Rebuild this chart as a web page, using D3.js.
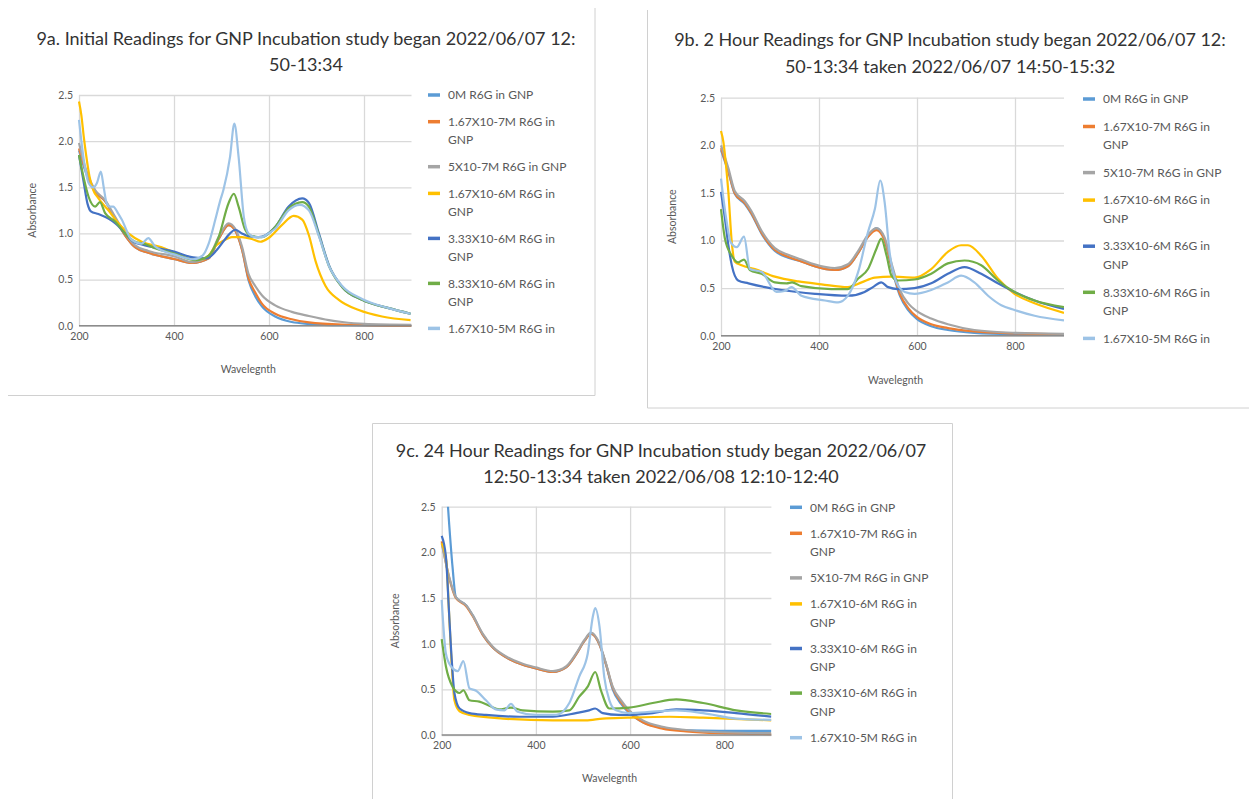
<!DOCTYPE html>
<html>
<head>
<meta charset="utf-8">
<script src="https://cdn.jsdelivr.net/npm/d3@7"></script>
<style>
  body { margin: 0; background: #fff; }
  text { font-family: Lato, "Open Sans", sans-serif; }
</style>
</head>
<body>
<svg id="chart" width="1249" height="799"></svg>
<script>
// Series labels and tick values shared by the three panels
var seriesNames = [
  "0M R6G in GNP",
  "1.67X10-7M R6G in GNP",
  "5X10-7M R6G in GNP",
  "1.67X10-6M R6G in GNP",
  "3.33X10-6M R6G in GNP",
  "8.33X10-6M R6G in GNP",
  "1.67X10-5M R6G in GNP"
];
var seriesColors = ["#5B9BD5", "#ED7D31", "#A5A5A5", "#FFC000", "#4472C4", "#70AD47", "#9DC3E6"];
var xTicks = [200, 400, 600, 800];
var yTicks = [0, 0.5, 1, 1.5, 2, 2.5];

// 9a - initial readings, [wavelength, absorbance] per series
var initialReadings = [
  [[200,1.90],[213,1.68],[234,1.45],[255,1.35],[276,1.16],[297,0.98],[318,0.85],[346,0.79],[402,0.72],[438,0.68],[473,0.73],[494,0.94],[515,1.09],[529,1.03],[543,0.83],[557,0.49],[571,0.32],[585,0.21],[613,0.10],[648,0.04],[684,0.02],[754,0.005],[900,0]],
  [[200,1.92],[213,1.70],[234,1.45],[255,1.35],[276,1.16],[297,0.98],[318,0.85],[346,0.79],[402,0.72],[438,0.68],[473,0.73],[494,0.94],[515,1.09],[529,1.03],[543,0.83],[557,0.51],[571,0.36],[585,0.24],[613,0.13],[648,0.07],[684,0.036],[754,0.012],[900,0]],
  [[200,1.98],[213,1.72],[234,1.47],[255,1.36],[276,1.18],[297,1.00],[318,0.87],[346,0.81],[402,0.75],[438,0.69],[473,0.75],[494,0.96],[515,1.11],[529,1.05],[543,0.86],[557,0.56],[571,0.43],[585,0.33],[613,0.22],[648,0.15],[684,0.105],[726,0.06],[754,0.04],[800,0.02],[900,0.01]],
  [[200,2.43],[205,2.28],[210,2.05],[215,1.85],[222,1.62],[230,1.47],[241,1.38],[262,1.25],[283,1.11],[304,1.00],[332,0.91],[374,0.85],[402,0.79],[440,0.72],[460,0.72],[473,0.76],[487,0.86],[504,0.92],[522,0.96],[543,0.96],[564,0.94],[582,0.91],[599,0.95],[627,1.09],[652,1.19],[670,1.15],[684,0.98],[698,0.70],[719,0.43],[747,0.28],[789,0.17],[838,0.10],[898,0.06]],
  [[200,1.85],[210,1.55],[218,1.32],[225,1.24],[241,1.21],[262,1.16],[276,1.11],[297,1.00],[315,0.91],[332,0.88],[402,0.80],[440,0.74],[469,0.73],[490,0.82],[505,0.92],[518,1.00],[529,1.04],[543,1.00],[557,0.97],[578,0.96],[613,1.07],[641,1.29],[670,1.38],[684,1.33],[705,1.00],[726,0.66],[754,0.42],[796,0.28],[852,0.19],[898,0.13]],
  [[200,1.85],[210,1.60],[220,1.40],[234,1.29],[244,1.34],[255,1.22],[276,1.13],[297,1.00],[318,0.91],[339,0.885],[360,0.84],[402,0.78],[445,0.71],[473,0.76],[494,0.96],[515,1.33],[526,1.43],[536,1.29],[550,1.04],[564,0.97],[585,0.96],[613,1.07],[641,1.27],[670,1.34],[684,1.29],[705,0.98],[726,0.65],[754,0.42],[796,0.28],[852,0.19],[898,0.13]],
  [[200,2.23],[210,1.80],[220,1.55],[230,1.50],[238,1.55],[246,1.67],[252,1.50],[258,1.33],[265,1.29],[272,1.29],[282,1.22],[290,1.15],[311,0.93],[332,0.89],[346,0.95],[360,0.86],[402,0.77],[440,0.72],[460,0.76],[473,0.89],[487,1.15],[497,1.35],[504,1.47],[518,1.83],[527,2.19],[536,1.83],[547,1.18],[557,1.00],[571,0.96],[585,0.96],[599,1.00],[613,1.05],[641,1.25],[665,1.31],[684,1.25],[705,0.97],[726,0.65],[754,0.43],[796,0.29],[852,0.19],[898,0.13]]
];

// 9b - readings after 2 hours
var twoHourReadings = [
  [[200,1.95],[215,1.72],[228,1.49],[249,1.38],[262,1.28],[283,1.07],[310,0.89],[337,0.82],[364,0.78],[391,0.73],[432,0.69],[459,0.73],[480,0.87],[500,1.04],[517,1.13],[534,1.01],[548,0.72],[565,0.42],[582,0.27],[599,0.18],[629,0.10],[663,0.06],[717,0.03],[799,0.015],[900,0.01]],
  [[200,1.97],[215,1.73],[228,1.50],[249,1.39],[262,1.29],[283,1.08],[310,0.90],[337,0.83],[364,0.78],[391,0.73],[432,0.69],[459,0.73],[480,0.87],[500,1.04],[517,1.11],[534,1.00],[548,0.73],[565,0.44],[582,0.29],[599,0.20],[629,0.12],[663,0.08],[717,0.045],[799,0.025],[900,0.015]],
  [[200,2.00],[215,1.76],[228,1.52],[249,1.41],[262,1.31],[283,1.10],[310,0.92],[337,0.85],[364,0.80],[391,0.75],[432,0.71],[459,0.75],[480,0.89],[500,1.06],[517,1.13],[534,1.03],[548,0.76],[565,0.48],[582,0.34],[599,0.26],[629,0.18],[663,0.12],[717,0.06],[799,0.03],[900,0.02]],
  [[200,2.15],[205,2.03],[210,1.80],[215,1.51],[222,0.98],[228,0.78],[242,0.74],[269,0.70],[310,0.62],[358,0.57],[405,0.54],[459,0.51],[487,0.56],[514,0.61],[548,0.62],[595,0.61],[629,0.70],[663,0.88],[690,0.95],[704,0.95],[731,0.84],[765,0.60],[799,0.44],[840,0.34],[900,0.24]],
  [[200,1.51],[208,1.23],[215,0.95],[222,0.74],[235,0.58],[256,0.55],[290,0.51],[324,0.48],[392,0.44],[459,0.42],[493,0.46],[510,0.51],[527,0.56],[541,0.51],[561,0.49],[595,0.50],[629,0.55],[663,0.65],[697,0.72],[731,0.65],[765,0.55],[799,0.46],[840,0.37],[900,0.28]],
  [[200,1.33],[208,1.02],[222,0.84],[235,0.77],[247,0.80],[259,0.69],[283,0.65],[310,0.56],[334,0.55],[345,0.56],[364,0.52],[425,0.49],[459,0.49],[480,0.60],[500,0.70],[517,0.91],[527,1.02],[538,0.84],[548,0.63],[561,0.58],[595,0.59],[629,0.65],[663,0.76],[697,0.79],[731,0.74],[765,0.58],[799,0.46],[840,0.37],[900,0.30]],
  [[200,1.65],[210,1.25],[220,0.98],[232,0.93],[247,1.04],[259,0.70],[283,0.67],[313,0.46],[330,0.47],[344,0.51],[364,0.42],[412,0.37],[439,0.35],[459,0.42],[480,0.67],[500,1.09],[514,1.33],[525,1.63],[534,1.40],[544,0.88],[558,0.56],[575,0.46],[595,0.44],[629,0.48],[663,0.56],[690,0.63],[717,0.56],[745,0.42],[772,0.32],[799,0.27],[840,0.21],[900,0.16]]
];

// 9c - readings after 24 hours
var dayReadings = [
  [[200,3.30],[210,2.75],[216,2.30],[223,1.84],[230,1.51],[252,1.42],[266,1.31],[287,1.10],[308,0.96],[337,0.85],[372,0.77],[400,0.73],[436,0.69],[464,0.74],[485,0.88],[503,1.03],[517,1.11],[535,0.99],[549,0.77],[563,0.50],[581,0.34],[598,0.24],[627,0.14],[669,0.08],[719,0.05],[789,0.045],[900,0.045]],
  [[200,2.12],[216,1.72],[230,1.50],[252,1.41],[266,1.30],[287,1.10],[308,0.96],[337,0.85],[372,0.77],[400,0.73],[436,0.69],[464,0.74],[485,0.88],[503,1.03],[517,1.11],[535,0.99],[549,0.77],[563,0.52],[581,0.36],[598,0.25],[627,0.14],[669,0.07],[719,0.04],[789,0.02],[900,0.01]],
  [[200,2.10],[216,1.73],[230,1.51],[252,1.42],[266,1.31],[287,1.11],[308,0.97],[337,0.86],[372,0.78],[400,0.74],[436,0.70],[464,0.75],[485,0.89],[503,1.04],[517,1.12],[535,1.00],[549,0.78],[563,0.53],[581,0.38],[598,0.27],[627,0.16],[669,0.09],[719,0.055],[789,0.03],[900,0.02]],
  [[200,2.10],[210,1.90],[215,1.40],[220,0.89],[227,0.38],[238,0.26],[259,0.22],[330,0.18],[436,0.16],[506,0.16],[542,0.18],[595,0.19],[684,0.20],[755,0.19],[900,0.16]],
  [[200,2.18],[209,1.95],[215,1.40],[220,0.93],[227,0.46],[238,0.29],[259,0.24],[294,0.22],[365,0.20],[436,0.20],[485,0.24],[513,0.27],[526,0.29],[542,0.24],[577,0.22],[595,0.22],[648,0.24],[698,0.28],[755,0.27],[825,0.24],[900,0.20]],
  [[200,1.05],[209,0.75],[223,0.53],[238,0.46],[246,0.49],[259,0.38],[280,0.365],[301,0.32],[322,0.28],[347,0.30],[372,0.27],[436,0.255],[471,0.27],[492,0.42],[510,0.53],[526,0.69],[538,0.49],[556,0.29],[598,0.30],[648,0.35],[698,0.39],[755,0.35],[825,0.27],[900,0.23]],
  [[200,1.48],[209,0.89],[220,0.75],[234,0.70],[246,0.81],[259,0.51],[273,0.485],[294,0.38],[315,0.28],[333,0.27],[347,0.34],[361,0.255],[400,0.22],[443,0.22],[471,0.35],[492,0.64],[510,0.89],[521,1.30],[526,1.39],[535,1.19],[545,0.64],[556,0.38],[570,0.27],[598,0.24],[648,0.255],[698,0.27],[755,0.24],[825,0.18],[900,0.165]]
];

var svg = d3.select("#chart");

// Layout of the three screenshot panels
var panels = [
  {
    id: "a", data: initialReadings,
    title: ["9a. Initial Readings for GNP Incubation study began 2022/06/07 12:", "50-13:34"],
    titleX: 306, titleY: [45, 71],
    left: 79, right: 411.5, top: 95, bottom: 325.7,
    yLabelX: 36, xLabelY: 373,
    legendX: 428, legendY: 95, legendLine: 18.3, legendGap: 8.4, legendMaxY: 335,
    border: [[595, 8, 595, 395.5], [8, 395.5, 595, 395.5]]
  },
  {
    id: "b", data: twoHourReadings,
    title: ["9b. 2 Hour Readings for GNP Incubation study began 2022/06/07 12:", "50-13:34 taken 2022/06/07 14:50-15:32"],
    titleX: 950, titleY: [46, 73],
    left: 721, right: 1064, top: 97.7, bottom: 335.7,
    yLabelX: 676, xLabelY: 384,
    legendX: 1083, legendY: 99, legendLine: 18.6, legendGap: 8.9, legendMaxY: 345,
    border: [[647.5, 10, 647.5, 408], [647.5, 408, 1249, 408]]
  },
  {
    id: "c", data: dayReadings,
    title: ["9c. 24 Hour Readings for GNP Incubation study began 2022/06/07", "12:50-13:34 taken 2022/06/08 12:10-12:40"],
    titleX: 661, titleY: [457, 483],
    left: 441.7, right: 771.4, top: 506.7, bottom: 735,
    yLabelX: 399, xLabelY: 782,
    legendX: 790, legendY: 507.3, legendLine: 18.6, legendGap: 7.4, legendMaxY: 745,
    border: [[372.5, 423.5, 952.5, 423.5], [372.5, 423.5, 372.5, 799], [952.5, 423.5, 952.5, 799]]
  }
];

var drawPanel = function(p) {
  var x = d3.scaleLinear().domain([200, 900]).range([p.left, p.right]);
  var y = d3.scaleLinear().domain([0, 2.5]).range([p.bottom, p.top]);
  var g = svg.append("g");

  // screenshot frame
  p.border.forEach(function(b) {
    g.append("line").attr("x1", b[0]).attr("y1", b[1]).attr("x2", b[2]).attr("y2", b[3])
      .attr("stroke", "#d0d0d0").attr("stroke-width", 1);
  });

  // title
  g.append("text")
    .attr("text-anchor", "middle")
    .attr("font-size", 18)
    .attr("fill", "#333")
    .selectAll("tspan").data(p.title).enter().append("tspan")
    .attr("x", p.titleX)
    .attr("y", function(d, i) { return p.titleY[i]; })
    .text(function(d) { return d; });

  // gridlines
  g.append("g")
    .attr("transform", "translate(" + p.left + ",0)")
    .call(d3.axisLeft(y).tickValues(yTicks).tickSize(-(p.right - p.left)).tickFormat(""))
    .call(function(s) { s.select(".domain").remove(); })
    .selectAll("line").attr("stroke", "#d9d9d9").attr("stroke-width", 1.3);
  g.append("g")
    .attr("transform", "translate(0," + p.bottom + ")")
    .call(d3.axisBottom(x).tickValues(xTicks).tickSize(-(p.bottom - p.top)).tickFormat(""))
    .call(function(s) { s.select(".domain").remove(); })
    .selectAll("line").attr("stroke", "#d9d9d9").attr("stroke-width", 1.3);

  // tick labels
  var yAxis = g.append("g")
    .attr("transform", "translate(" + p.left + ",0)")
    .call(d3.axisLeft(y).tickValues(yTicks).tickSize(0).tickPadding(6).tickFormat(d3.format(".1f")));
  yAxis.select(".domain").remove();
  yAxis.selectAll("text").attr("font-size", 10.5).attr("fill", "#595959").attr("font-family", "Lato, sans-serif");

  var xAxis = g.append("g")
    .attr("transform", "translate(0," + p.bottom + ")")
    .call(d3.axisBottom(x).tickValues(xTicks).tickSize(0).tickPadding(7).tickFormat(d3.format("d")));
  xAxis.select(".domain").remove();
  xAxis.selectAll("text").attr("font-size", 10.5).attr("fill", "#595959").attr("font-family", "Lato, sans-serif");

  // axis titles
  g.append("text")
    .attr("transform", "translate(" + p.yLabelX + "," + ((p.top + p.bottom) / 2) + ") rotate(-90)")
    .attr("text-anchor", "middle")
    .attr("font-size", 10.5).attr("fill", "#595959")
    .text("Absorbance");
  g.append("text")
    .attr("x", (p.left + p.right) / 2 + 3)
    .attr("y", p.xLabelY)
    .attr("text-anchor", "middle")
    .attr("font-size", 10.5).attr("fill", "#595959")
    .text("Wavelegnth");

  // clip the curves to the plot area
  g.append("clipPath").attr("id", "clip-" + p.id)
    .append("rect")
    .attr("x", p.left - 2).attr("y", p.top)
    .attr("width", p.right - p.left + 2).attr("height", p.bottom - p.top + 3);

  var line = d3.line()
    .x(function(d) { return x(d[0]); })
    .y(function(d) { return y(d[1]); })
    .curve(d3.curveMonotoneX);

  g.append("g").attr("clip-path", "url(#clip-" + p.id + ")")
    .selectAll("path").data(p.data).enter().append("path")
    .attr("d", line)
    .attr("fill", "none")
    .attr("stroke", function(d, i) { return seriesColors[i]; })
    .attr("stroke-width", 2.2)
    .attr("stroke-linejoin", "round");

  // x axis line at 0
  g.append("line")
    .attr("x1", p.left).attr("x2", p.right)
    .attr("y1", y(0)).attr("y2", y(0))
    .attr("stroke", "#8c8c8c").attr("stroke-width", 1.5);

  // legend
  var ly = p.legendY;
  seriesNames.forEach(function(name, i) {
    var lines = name.length > 19 ? [name.slice(0, name.lastIndexOf(" ")), name.slice(name.lastIndexOf(" ") + 1)] : [name];
    g.append("line")
      .attr("x1", p.legendX).attr("x2", p.legendX + 12)
      .attr("y1", ly).attr("y2", ly)
      .attr("stroke", seriesColors[i]).attr("stroke-width", 3.5);
    lines.forEach(function(t, k) {
      var ty = ly + k * p.legendLine;
      if (ty > p.legendMaxY) return;
      g.append("text")
        .attr("x", p.legendX + 20)
        .attr("y", ty + 4.2)
        .attr("font-size", 12).attr("fill", "#595959")
        .text(t);
    });
    ly += lines.length * p.legendLine + p.legendGap;
  });
};

panels.forEach(drawPanel);
</script>
</body>
</html>
